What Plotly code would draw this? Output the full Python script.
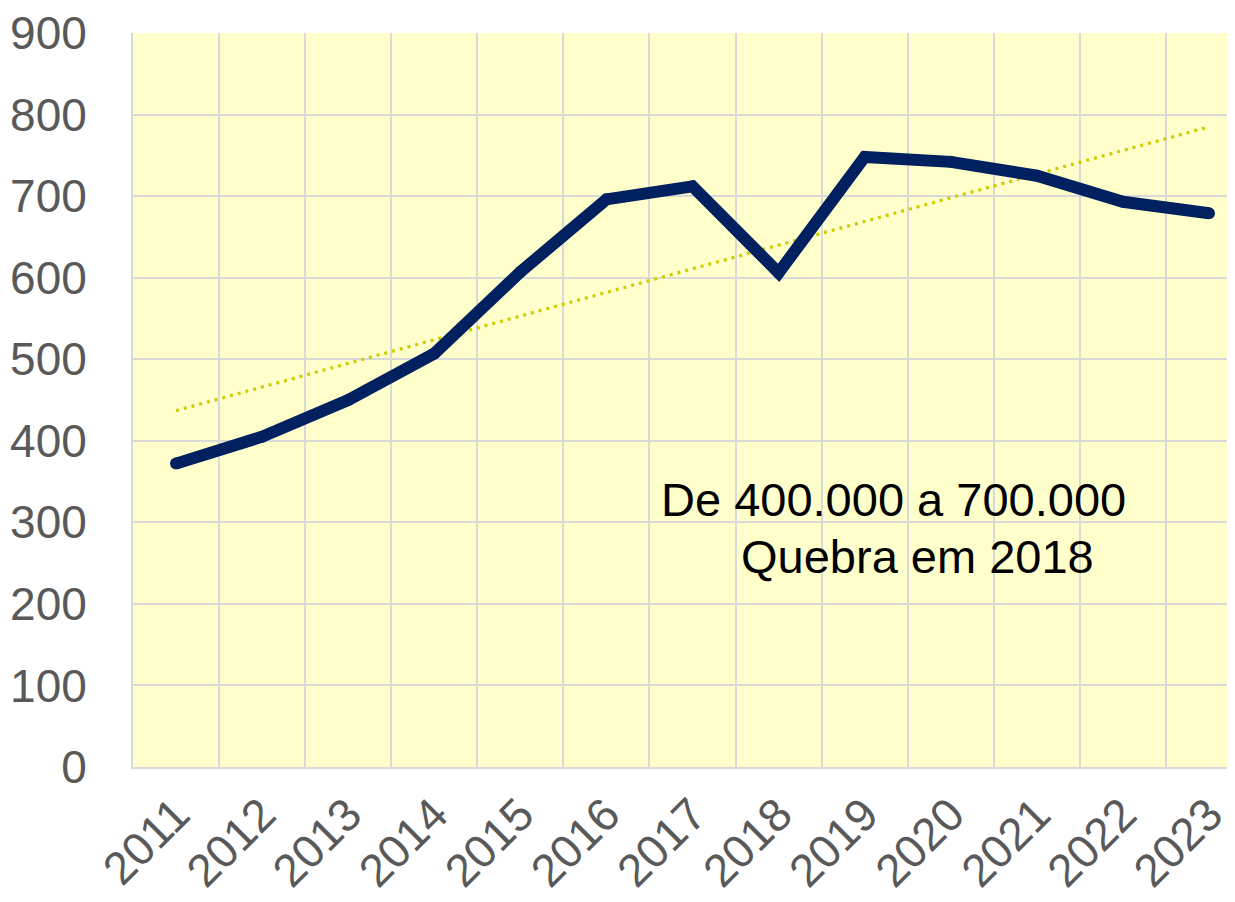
import numpy as np
import plotly.graph_objects as go

years = ["2011", "2012", "2013", "2014", "2015", "2016", "2017",
         "2018", "2019", "2020", "2021", "2022", "2023"]
values = [372, 405, 450, 507, 607, 696, 712, 606, 748, 742, 725, 693, 679]
y_ticks = [0, 100, 200, 300, 400, 500, 600, 700, 800, 900]
note_line1 = "De 400.000 a 700.000"
note_line2 = "Quebra em 2018"

idx = np.arange(len(years))
slope, intercept = np.polyfit(idx, values, 1)
trend = slope * idx + intercept

FONT = "Liberation Sans, Arial, sans-serif"

fig = go.Figure()
fig.add_trace(go.Scatter(
    x=years, y=trend, mode="lines",
    line=dict(color="#CCCC00", width=3.2, dash="3px,5px"),
    hoverinfo="skip", showlegend=False))
fig.add_trace(go.Scatter(
    x=years, y=values, mode="lines+markers",
    line=dict(color="#002060", width=12),
    marker=dict(color="#002060", size=12, line=dict(width=0)),
    showlegend=False))

fig.add_annotation(x=8.33, y=328, xref="x", yref="y", text=note_line1,
                   showarrow=False, xanchor="center", yanchor="middle",
                   font=dict(family=FONT, size=47, color="#000000"))
fig.add_annotation(x=8.61, y=258, xref="x", yref="y", text=note_line2,
                   showarrow=False, xanchor="center", yanchor="middle",
                   font=dict(family=FONT, size=47, color="#000000"))

fig.update_layout(
    width=1235, height=902,
    margin=dict(l=125, r=8, t=25, b=143, autoexpand=False),
    paper_bgcolor="#FFFFFF",
    plot_bgcolor="#FFFFCC",
    font=dict(family=FONT, color="#595959"),
)
fig.update_xaxes(
    type="category", range=[-0.5, 12.302], automargin=False,
    tickson="boundaries", showgrid=True, gridcolor="#D9D9D9", gridwidth=2,
    showline=True, linecolor="#D9D9D9", linewidth=2,
    ticks="", tickangle=-45, ticklabeloverflow="allow",
    tickfont=dict(family=FONT, size=46, color="#595959"),
)
fig.update_yaxes(
    range=[0, 900], tickvals=y_ticks, ticktext=[str(v) for v in y_ticks],
    automargin=False, ticklabeloverflow="allow",
    showgrid=True, gridcolor="#D9D9D9", gridwidth=2,
    showline=True, linecolor="#D9D9D9", linewidth=2,
    zeroline=False, ticks="", ticklabelstandoff=35,
    tickfont=dict(family=FONT, size=46, color="#595959"),
)

fig.write_html("out.html")
